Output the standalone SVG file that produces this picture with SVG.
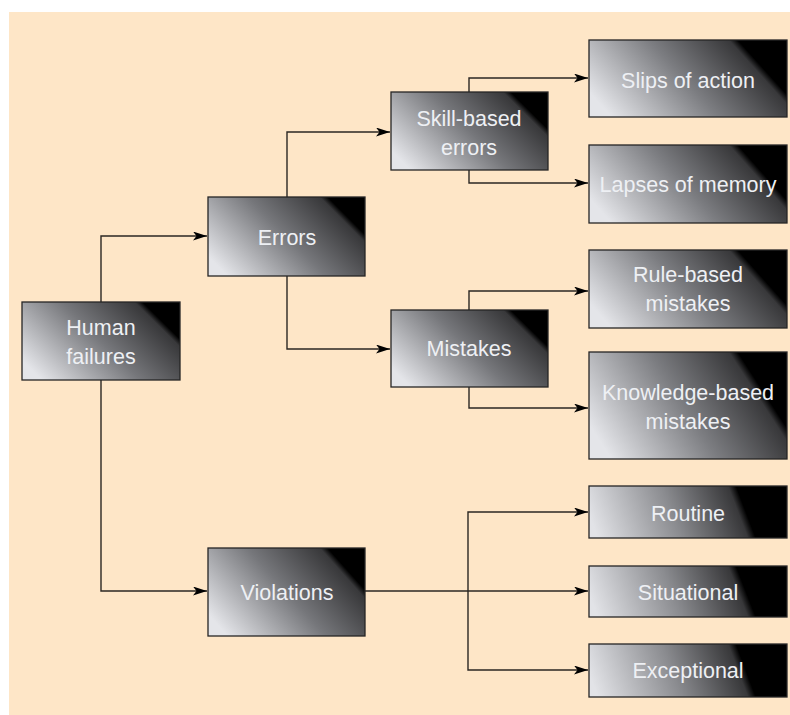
<svg xmlns="http://www.w3.org/2000/svg" width="790" height="715" viewBox="0 0 790 715">
<defs>
<style>
.box{stroke:#262626;stroke-width:1.3}
.lbl{font-family:"Liberation Sans",Arial,sans-serif;font-size:21.5px;fill:#eef0f4;text-anchor:middle}
.conn{fill:none;stroke:#2b2723;stroke-width:1.4}
</style>
<linearGradient id="g" x1="0" y1="0.75" x2="1" y2="0.25">
<stop offset="0" stop-color="#e4e5e9"/>
<stop offset="0.5" stop-color="#76777b"/>
<stop offset="0.87" stop-color="#38383a"/>
<stop offset="0.91" stop-color="#000"/>
<stop offset="1" stop-color="#000"/>
</linearGradient>
<linearGradient id="g2" x1="0" y1="0.675" x2="1" y2="0.325">
<stop offset="0" stop-color="#e4e5e9"/>
<stop offset="0.48" stop-color="#7c7d81"/>
<stop offset="0.84" stop-color="#38383a"/>
<stop offset="0.88" stop-color="#000"/>
<stop offset="1" stop-color="#000"/>
</linearGradient>
<linearGradient id="gw" x1="0" y1="0.55" x2="1" y2="0.45">
<stop offset="0" stop-color="#e2e3e7"/>
<stop offset="0.42" stop-color="#8a8b8f"/>
<stop offset="0.75" stop-color="#38383a"/>
<stop offset="0.79" stop-color="#000"/>
<stop offset="1" stop-color="#000"/>
</linearGradient>
<marker id="arr" viewBox="0 0 14 9" refX="14" refY="4.5" markerWidth="14" markerHeight="9" markerUnits="userSpaceOnUse" orient="auto">
<path d="M0,0 L14,4.5 L0,9 L3.5,4.5 Z" fill="#000"/>
</marker>
</defs>
<rect x="9" y="12" width="781" height="703" fill="#fee6c7"/>
<g id="connectors">
<path class="conn" d="M101,302 V236 H207" marker-end="url(#arr)"/>
<path class="conn" d="M101,380 V591 H207" marker-end="url(#arr)"/>
<path class="conn" d="M287,197 V132 H390" marker-end="url(#arr)"/>
<path class="conn" d="M287,276 V349 H390" marker-end="url(#arr)"/>
<path class="conn" d="M469,92 V78 H588" marker-end="url(#arr)"/>
<path class="conn" d="M469,170 V183 H588" marker-end="url(#arr)"/>
<path class="conn" d="M469,310 V291 H588" marker-end="url(#arr)"/>
<path class="conn" d="M469,387 V408 H588" marker-end="url(#arr)"/>
<path class="conn" d="M365,591 H588" marker-end="url(#arr)"/>
<path class="conn" d="M468,591 V512 H588" marker-end="url(#arr)"/>
<path class="conn" d="M468,591 V670 H588" marker-end="url(#arr)"/>
</g>
<g id="human-failures">
<rect class="box" x="22" y="302" width="158" height="78" fill="url(#g)"/>
<text class="lbl" x="101" y="335">Human</text>
<text class="lbl" x="101" y="364">failures</text>
</g>
<g id="errors">
<rect class="box" x="208" y="197" width="157" height="79" fill="url(#g)"/>
<text class="lbl" x="287" y="245">Errors</text>
</g>
<g id="violations">
<rect class="box" x="208" y="548" width="157" height="88" fill="url(#g)"/>
<text class="lbl" x="287" y="600">Violations</text>
</g>
<g id="skill-based-errors">
<rect class="box" x="391" y="92" width="157" height="78" fill="url(#g)"/>
<text class="lbl" x="469" y="126">Skill-based</text>
<text class="lbl" x="469" y="155">errors</text>
</g>
<g id="mistakes">
<rect class="box" x="391" y="310" width="157" height="77" fill="url(#g)"/>
<text class="lbl" x="469" y="356">Mistakes</text>
</g>
<g id="slips-of-action">
<rect class="box" x="589" y="40" width="198" height="77" fill="url(#g2)"/>
<text class="lbl" x="688" y="88">Slips of action</text>
</g>
<g id="lapses-of-memory">
<rect class="box" x="589" y="145" width="198" height="78" fill="url(#g2)"/>
<text class="lbl" x="688" y="192">Lapses of memory</text>
</g>
<g id="rule-based-mistakes">
<rect class="box" x="589" y="250" width="198" height="78" fill="url(#g2)"/>
<text class="lbl" x="688" y="282">Rule-based</text>
<text class="lbl" x="688" y="311">mistakes</text>
</g>
<g id="knowledge-based-mistakes">
<rect class="box" x="589" y="352" width="198" height="107" fill="url(#g2)"/>
<text class="lbl" x="688" y="400">Knowledge-based</text>
<text class="lbl" x="688" y="429">mistakes</text>
</g>
<g id="routine">
<rect class="box" x="589" y="486" width="198" height="52" fill="url(#gw)"/>
<text class="lbl" x="688" y="521">Routine</text>
</g>
<g id="situational">
<rect class="box" x="589" y="566" width="198" height="51" fill="url(#gw)"/>
<text class="lbl" x="688" y="600">Situational</text>
</g>
<g id="exceptional">
<rect class="box" x="589" y="644" width="198" height="53" fill="url(#gw)"/>
<text class="lbl" x="688" y="678">Exceptional</text>
</g>
</svg>
